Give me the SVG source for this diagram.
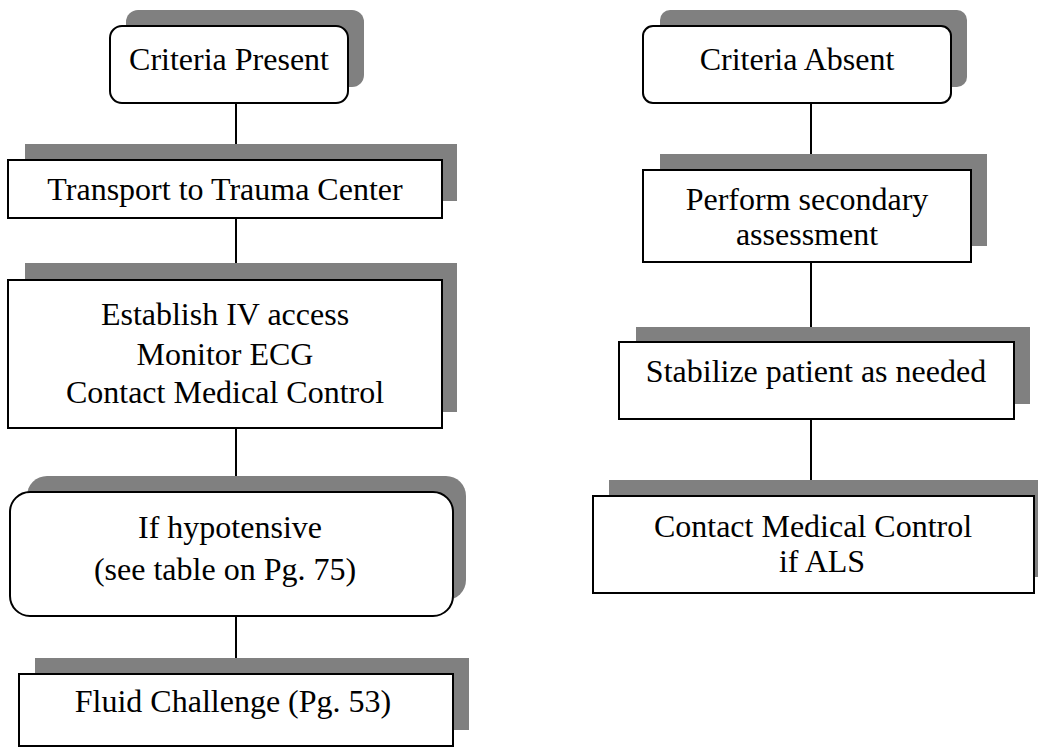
<svg xmlns="http://www.w3.org/2000/svg" width="1038" height="749" viewBox="0 0 1038 749">
<style>
.sh{fill:#808080;stroke:none}
.bx{fill:#fff;stroke:#000;stroke-width:2}
.t{font-family:"Liberation Serif","Times New Roman",serif;font-size:32px;fill:#000;text-anchor:middle}
.c{stroke:#000;stroke-width:2;fill:none}
</style>
<rect width="1038" height="749" fill="#fff"/>
<g id="connectors">
<line class="c" x1="236" y1="103" x2="236" y2="160"/>
<line class="c" x1="236" y1="218" x2="236" y2="280"/>
<line class="c" x1="236" y1="428" x2="236" y2="492"/>
<line class="c" x1="236" y1="616" x2="236" y2="674"/>
<line class="c" x1="811" y1="103" x2="811" y2="170"/>
<line class="c" x1="811" y1="262" x2="811" y2="342"/>
<line class="c" x1="811" y1="419" x2="811" y2="496"/>
</g>
<g id="criteria-present">
<rect class="sh" x="126" y="10" width="238" height="77" rx="12"/>
<rect class="bx" x="110" y="26" width="238" height="77" rx="12"/>
<text class="t" x="229" y="70">Criteria Present</text>
</g>
<g id="transport">
<rect class="sh" x="25" y="144" width="432" height="57"/>
<rect class="bx" x="8" y="160" width="434" height="58"/>
<text class="t" x="225" y="200">Transport to Trauma Center</text>
</g>
<g id="establish">
<rect class="sh" x="25" y="263" width="432" height="149"/>
<rect class="bx" x="8" y="280" width="434" height="148"/>
<text class="t" x="225" y="325">Establish IV access</text>
<text class="t" x="225" y="365">Monitor ECG</text>
<text class="t" x="225" y="403">Contact Medical Control</text>
</g>
<g id="hypotensive">
<rect class="sh" x="27" y="476" width="439" height="124" rx="20"/>
<rect class="bx" x="10" y="492" width="443" height="124" rx="20"/>
<text class="t" x="230" y="538">If hypotensive</text>
<text class="t" x="225" y="580">(see table on Pg. 75)</text>
</g>
<g id="fluid">
<rect class="sh" x="35" y="658" width="434" height="72"/>
<rect class="bx" x="19" y="674" width="434" height="72"/>
<text class="t" x="233" y="712">Fluid Challenge (Pg. 53)</text>
</g>
<g id="criteria-absent">
<rect class="sh" x="660" y="10" width="307" height="77" rx="10"/>
<rect class="bx" x="643" y="26" width="308" height="77" rx="10"/>
<text class="t" x="797" y="70">Criteria Absent</text>
</g>
<g id="secondary">
<rect class="sh" x="660" y="154" width="327" height="92"/>
<rect class="bx" x="643" y="170" width="328" height="92"/>
<text class="t" x="807" y="210">Perform secondary</text>
<text class="t" x="807" y="245">assessment</text>
</g>
<g id="stabilize">
<rect class="sh" x="636" y="327" width="394" height="77"/>
<rect class="bx" x="619" y="342" width="395" height="77"/>
<text class="t" x="816" y="382">Stabilize patient as needed</text>
</g>
<g id="contact-als">
<rect class="sh" x="609" y="480" width="441" height="97"/>
<rect class="bx" x="593" y="496" width="441" height="97"/>
<text class="t" x="813" y="537">Contact Medical Control</text>
<text class="t" x="822" y="572">if ALS</text>
</g>
</svg>
